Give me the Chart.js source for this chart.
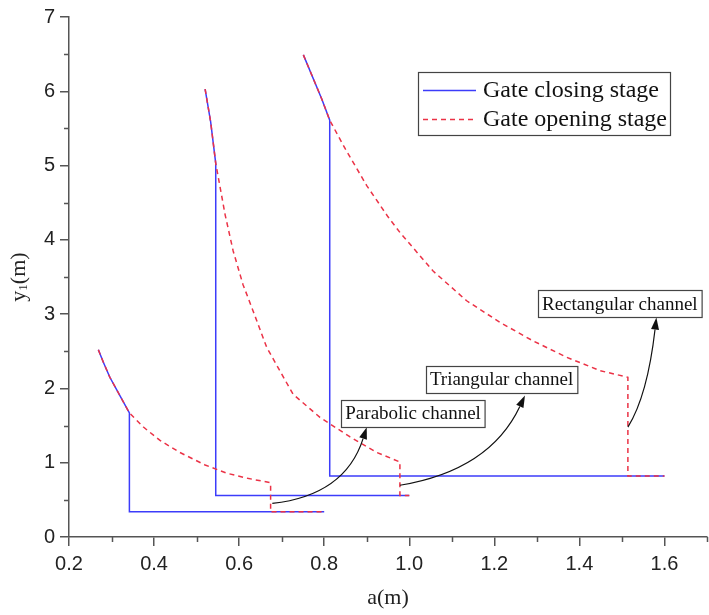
<!DOCTYPE html>
<html>
<head>
<meta charset="utf-8">
<script src="https://cdn.jsdelivr.net/npm/chart.js@4.4.0/dist/chart.umd.min.js"></script>
<style>
    html, body { margin: 0; padding: 0; background: #fff; }
</style>
</head>
<body>
<canvas id="chart" width="709" height="615"></canvas>
<script>
// closing stage (solid blue) and opening stage (dashed red), one pair per channel
const parabolicCloseX = [0.269, 0.281, 0.296, 0.320, 0.342, 0.342, 0.80];
const parabolicCloseY = [2.52, 2.35, 2.15, 1.90, 1.67, 0.34, 0.34];
const parabolicOpenX = [0.269, 0.281, 0.296, 0.320, 0.342, 0.375, 0.414, 0.46, 0.52, 0.57, 0.62, 0.674, 0.674, 0.80];
const parabolicOpenY = [2.52, 2.35, 2.15, 1.90, 1.67, 1.48, 1.30, 1.14, 0.97, 0.86, 0.79, 0.73, 0.34, 0.34];

const triangularCloseX = [0.520, 0.533, 0.545, 0.545, 1.0];
const triangularCloseY = [6.03, 5.59, 5.03, 0.56, 0.56];
const triangularOpenX = [0.520, 0.533, 0.545, 0.567, 0.586, 0.609, 0.633, 0.665, 0.727, 0.79, 0.86, 0.923, 0.978, 0.978, 1.0];
const triangularOpenY = [6.03, 5.59, 5.03, 4.34, 3.85, 3.40, 3.04, 2.55, 1.92, 1.61, 1.35, 1.14, 1.01, 0.56, 0.56];

const rectangularCloseX = [0.751, 0.794, 0.813, 0.813, 1.6];
const rectangularCloseY = [6.49, 5.90, 5.61, 0.82, 0.82];
const rectangularOpenX = [0.751, 0.794, 0.813, 0.85, 0.90, 0.95, 0.978, 1.056, 1.135, 1.213, 1.291, 1.37, 1.448, 1.514, 1.514, 1.6];
const rectangularOpenY = [6.49, 5.90, 5.61, 5.22, 4.73, 4.31, 4.10, 3.58, 3.18, 2.89, 2.64, 2.42, 2.24, 2.15, 0.82, 0.82];

const seriesLabels = ['Gate closing stage', 'Gate opening stage'];
const channelLabels = ['Parabolic channel', 'Triangular channel', 'Rectangular channel'];

const xTicks = [0.2, 0.4, 0.6, 0.8, 1.0, 1.2, 1.4, 1.6];
const yTicks = [0, 1, 2, 3, 4, 5, 6, 7];

const BLUE = 'rgb(60, 60, 250)';
const RED = 'rgb(235, 50, 70)';
const AXIS = '#555';
const SERIF = '"Liberation Serif", "Times New Roman", serif';
const SANS = '"Liberation Sans", Arial, sans-serif';

// callout boxes and arrows, in data units
const callouts = [
    { box: [1.009, 1.663], tail: [0.678, 0.452], ctrl: [0.849, 0.563], head: [0.900, 1.479] },
    { box: [1.217, 2.123], tail: [0.978, 0.697], ctrl: [1.189, 0.898], head: [1.272, 1.904] },
    { box: [1.495, 3.138], tail: [1.514, 1.479], ctrl: [1.560, 1.904], head: [1.581, 2.954] }
];

function toPoints(xs, ys) {
    return xs.map((x, i) => ({ x: x, y: ys[i] }));
}

function lineSet(label, xs, ys, color, dash, order) {
    return {
        label: label,
        data: toPoints(xs, ys),
        borderColor: color,
        backgroundColor: color,
        borderWidth: 1.5,
        borderDash: dash,
        pointRadius: 0,
        showLine: true,
        fill: false,
        tension: 0,
        order: order
    };
}

const decorations = {
    id: 'decorations',
    afterDraw(chart) {
        const ctx = chart.ctx;
        const xs = chart.scales.x;
        const ys = chart.scales.y;
        const area = chart.chartArea;

        ctx.save();
        // minor ticks
        ctx.strokeStyle = AXIS;
        ctx.lineWidth = 1.5;
        ctx.beginPath();
        for (let v = 0.3; v <= 1.71; v += 0.2) {
            const px = Math.round(xs.getPixelForValue(v)) + 0.5;
            ctx.moveTo(px, area.bottom);
            ctx.lineTo(px, area.bottom + 5);
        }
        for (let v = 0.5; v < 7; v += 1) {
            const py = Math.round(ys.getPixelForValue(v)) + 0.5;
            ctx.moveTo(area.left, py);
            ctx.lineTo(area.left - 5, py);
        }
        ctx.stroke();

        // y axis title with subscript
        ctx.fillStyle = '#222';
        ctx.translate(19, 277);
        ctx.rotate(-Math.PI / 2);
        ctx.textBaseline = 'middle';
        ctx.font = '22px ' + SERIF;
        const w1 = ctx.measureText('y').width;
        ctx.font = '13px ' + SERIF;
        const w2 = ctx.measureText('1').width;
        ctx.font = '22px ' + SERIF;
        const w3 = ctx.measureText('(m)').width;
        let start = -(w1 + w2 + w3) / 2;
        ctx.textAlign = 'left';
        ctx.fillText('y', start, 0);
        ctx.font = '13px ' + SERIF;
        ctx.fillText('1', start + w1, 5);
        ctx.font = '22px ' + SERIF;
        ctx.fillText('(m)', start + w1 + w2, 0);
        ctx.restore();

        // legend box
        ctx.save();
        ctx.strokeStyle = '#444';
        ctx.lineWidth = 1.2;
        ctx.fillStyle = '#fff';
        ctx.fillRect(418.5, 72.5, 252, 63);
        ctx.strokeRect(418.5, 72.5, 252, 63);
        const rows = [[BLUE, [], 90], [RED, [5, 4], 119]];
        rows.forEach((r, i) => {
            ctx.strokeStyle = r[0];
            ctx.setLineDash(r[1]);
            ctx.lineWidth = 1.5;
            ctx.beginPath();
            ctx.moveTo(423, r[2] + 0.5);
            ctx.lineTo(476, r[2] + 0.5);
            ctx.stroke();
            ctx.setLineDash([]);
            ctx.fillStyle = '#111';
            ctx.font = '24px ' + SERIF;
            ctx.textAlign = 'left';
            ctx.textBaseline = 'middle';
            ctx.fillText(seriesLabels[i], 483, r[2] + 1);
        });
        ctx.restore();

        // callouts
        ctx.save();
        callouts.forEach((c, i) => {
            const tx = xs.getPixelForValue(c.tail[0]), ty = ys.getPixelForValue(c.tail[1]);
            const cx = xs.getPixelForValue(c.ctrl[0]), cy = ys.getPixelForValue(c.ctrl[1]);
            const hx = xs.getPixelForValue(c.head[0]), hy = ys.getPixelForValue(c.head[1]);
            const ang = Math.atan2(hy - cy, hx - cx);
            const len = 12, half = 4;
            const bx = hx - len * Math.cos(ang), by = hy - len * Math.sin(ang);
            ctx.strokeStyle = '#111';
            ctx.lineWidth = 1.2;
            ctx.beginPath();
            ctx.moveTo(tx, ty);
            ctx.quadraticCurveTo(cx, cy, bx, by);
            ctx.stroke();
            ctx.fillStyle = '#111';
            ctx.beginPath();
            ctx.moveTo(hx, hy);
            ctx.lineTo(bx + half * Math.sin(ang), by - half * Math.cos(ang));
            ctx.lineTo(bx - half * Math.sin(ang), by + half * Math.cos(ang));
            ctx.closePath();
            ctx.fill();

            ctx.font = '19px ' + SERIF;
            const tw = ctx.measureText(channelLabels[i]).width;
            const px = xs.getPixelForValue(c.box[0]), py = ys.getPixelForValue(c.box[1]);
            const bw = tw + 8, bh = 27;
            ctx.fillStyle = '#fff';
            ctx.fillRect(px - bw / 2, py - bh / 2, bw, bh);
            ctx.strokeStyle = '#444';
            ctx.strokeRect(Math.round(px - bw / 2) + 0.5, Math.round(py - bh / 2) + 0.5, bw, bh);
            ctx.fillStyle = '#111';
            ctx.textAlign = 'center';
            ctx.textBaseline = 'middle';
            ctx.fillText(channelLabels[i], px, py + 1);
        });
        ctx.restore();
    }
};

const ctx = document.getElementById('chart').getContext('2d');
new Chart(ctx, {
    type: 'scatter',
    data: {
        datasets: [
            lineSet(seriesLabels[1], parabolicOpenX, parabolicOpenY, RED, [5, 4], 0),
            lineSet(seriesLabels[1], triangularOpenX, triangularOpenY, RED, [5, 4], 0),
            lineSet(seriesLabels[1], rectangularOpenX, rectangularOpenY, RED, [5, 4], 0),
            lineSet(seriesLabels[0], parabolicCloseX, parabolicCloseY, BLUE, [], 1),
            lineSet(seriesLabels[0], triangularCloseX, triangularCloseY, BLUE, [], 1),
            lineSet(seriesLabels[0], rectangularCloseX, rectangularCloseY, BLUE, [], 1)
        ]
    },
    options: {
        responsive: false,
        animation: false,
        layout: { padding: { top: 15, right: 2, left: 0, bottom: 0 } },
        plugins: {
            legend: { display: false },
            tooltip: { enabled: false }
        },
        scales: {
            x: {
                type: 'linear',
                min: 0.2,
                max: 1.7,
                afterFit: scale => { scale.height = 78; },
                afterBuildTicks: scale => { scale.ticks = xTicks.map(v => ({ value: v })); },
                ticks: {
                    callback: v => v.toFixed(1),
                    font: { family: SANS, size: 20 },
                    color: '#222',
                    padding: 6,
                    maxRotation: 0,
                    autoSkip: false
                },
                grid: { drawOnChartArea: false, drawTicks: true, tickLength: 9, color: AXIS, lineWidth: 1.5 },
                border: { color: AXIS, width: 1.5 },
                title: {
                    display: true,
                    text: 'a(m)',
                    font: { family: SERIF, size: 22 },
                    color: '#222',
                    padding: { top: 11 }
                }
            },
            y: {
                type: 'linear',
                min: 0,
                max: 7,
                afterFit: scale => { scale.width = 69; },
                afterBuildTicks: scale => { scale.ticks = yTicks.map(v => ({ value: v })); },
                ticks: {
                    font: { family: SANS, size: 20 },
                    color: '#222',
                    padding: 5
                },
                grid: { drawOnChartArea: false, drawTicks: true, tickLength: 9, color: AXIS, lineWidth: 1.5 },
                border: { color: AXIS, width: 1.5 }
            }
        }
    },
    plugins: [decorations]
});
</script>
</body>
</html>
